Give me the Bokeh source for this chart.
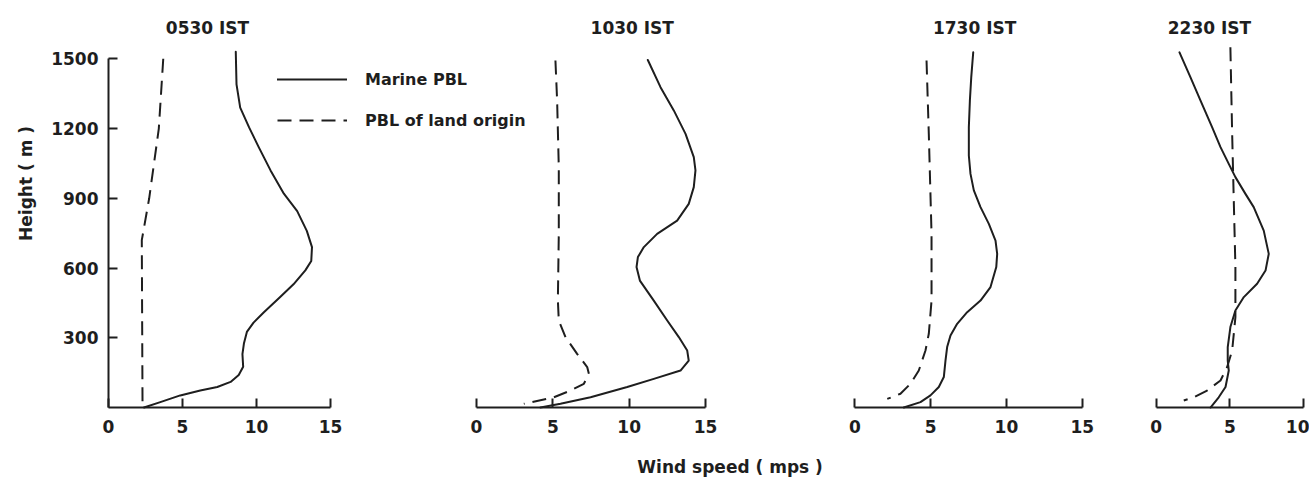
import math
from bokeh.plotting import figure
from bokeh.models import Range1d, LinearAxis, FixedTicker, Legend, LegendItem
from bokeh.core.properties import value
from bokeh.embed import file_html
from bokeh.resources import INLINE

# ---------------- data ----------------
times = ["0530 IST", "1030 IST", "1730 IST", "2230 IST"]
series_names = ["Marine PBL", "PBL of land origin"]
y_ticks = [300, 600, 900, 1200, 1500]
x_ticks_15 = [0, 5, 10, 15]
x_ticks_10 = [0, 5, 10]

# 0530 IST
marine_0530_h = [1530, 1390, 1290, 1205, 1120, 1020, 920, 845, 760, 690, 630, 590, 530, 475,
                 410, 365, 325, 275, 230, 175, 140, 110, 88, 73, 52, 23, 0]
marine_0530_s = [8.6, 8.65, 8.9, 9.5, 10.15, 10.95, 11.85, 12.75, 13.4, 13.75, 13.7, 13.3, 12.5, 11.6,
                 10.5, 9.8, 9.35, 9.15, 9.05, 9.1, 8.8, 8.25, 7.35, 6.2, 4.85, 3.5, 2.4]
land_0530_h = [1500, 1200, 900, 720, 0]
land_0530_s = [3.7, 3.4, 2.75, 2.25, 2.3]

# 1030 IST
marine_1030_h = [1495, 1378, 1278, 1177, 1077, 1020, 948, 876, 804, 747, 690, 647, 604, 546,
                 460, 374, 303, 245, 202, 159, 123, 88, 44, 16, 0]
marine_1030_s = [11.22, 12.05, 12.92, 13.69, 14.23, 14.34, 14.23, 13.9, 13.14, 11.83, 10.96, 10.57, 10.48, 10.7,
                 11.61, 12.49, 13.25, 13.8, 13.9, 13.36, 11.61, 9.87, 7.47, 5.5, 4.19]
land_1030_h = [1493, 1321, 1034, 747, 460, 374, 303, 231, 174, 145, 102, 73, 44, 16]
land_1030_s = [5.17, 5.28, 5.39, 5.39, 5.33, 5.39, 5.83, 6.59, 7.25, 7.36, 7.03, 6.16, 5.06, 3.1]

# 1730 IST
marine_1730_h = [1528, 1421, 1321, 1206, 1084, 1005, 934, 862, 790, 718, 661, 604, 518, 460,
                 410, 360, 310, 260, 202, 131, 88, 52, 23, 0]
marine_1730_s = [7.81, 7.68, 7.59, 7.52, 7.52, 7.63, 7.85, 8.29, 8.84, 9.28, 9.39, 9.33, 8.95, 8.29,
                 7.41, 6.75, 6.31, 6.09, 5.98, 5.87, 5.54, 4.99, 4.33, 3.23]
land_1730_h = [1493, 1177, 747, 460, 317, 245, 159, 102, 59, 37]
land_1730_s = [4.73, 4.88, 5.06, 5.06, 4.88, 4.66, 4.22, 3.67, 3.01, 2.14]

# 2230 IST
marine_2230_h = [1528, 1421, 1321, 1206, 1120, 1048, 991, 919, 862, 761, 661, 589, 532, 475,
                 417, 346, 260, 202, 159, 88, 44, 0]
marine_2230_s = [1.58, 2.32, 3.0, 3.79, 4.36, 4.92, 5.37, 6.05, 6.61, 7.29, 7.63, 7.41, 6.84, 5.94,
                 5.37, 5.03, 4.85, 4.85, 4.92, 4.7, 4.24, 3.68]
land_2230_h = [1550, 1177, 890, 604, 389, 245, 174, 116, 73, 44, 30]
land_2230_s = [5.03, 5.15, 5.26, 5.37, 5.37, 5.15, 4.81, 4.36, 3.45, 2.55, 1.87]

# ---------------- figure ----------------
INK = "#1e1e1e"
FONT = "DejaVu Sans"

p = figure(width=1309, height=483, output_backend="svg", toolbar_location=None,
           x_range=Range1d(-7.297, 81.15), y_range=Range1d(-326.9, 1750.8),
           x_axis_location=None, y_axis_location=None,
           min_border=0, min_border_left=0, min_border_right=0,
           min_border_top=0, min_border_bottom=0)
p.extra_x_ranges = {
    "p2": Range1d(-31.17, 54.55),
    "p3": Range1d(-56.35, 29.99),
    "p4": Range1d(-78.3, 10.39),
}
p.outline_line_color = None
p.xgrid.visible = False
p.ygrid.visible = False
p.background_fill_color = "white"
p.border_fill_color = "white"


def style_axis(ax):
    ax.axis_line_color = INK
    ax.axis_line_width = 2
    ax.major_tick_line_color = INK
    ax.major_tick_line_width = 2
    ax.major_tick_in = 9
    ax.major_tick_out = 0
    ax.minor_tick_in = 0
    ax.minor_tick_out = 0
    ax.major_label_text_font = FONT
    ax.major_label_text_font_style = "bold"
    ax.major_label_text_font_size = "17px"
    ax.major_label_text_color = INK


# y axis (only on the first panel)
yax = LinearAxis(fixed_location=0, bounds=(0, 1500), ticker=FixedTicker(ticks=y_ticks))
style_axis(yax)
yax.major_label_standoff = 10
p.add_layout(yax, "left")

# x axes, one per panel
panel_ranges = ["default", "p2", "p3", "p4"]
panel_ticks = [x_ticks_15, x_ticks_15, x_ticks_15, x_ticks_10]
for rn, tk in zip(panel_ranges, panel_ticks):
    ax = LinearAxis(x_range_name=rn, fixed_location=0, bounds=(tk[0], tk[-1]),
                    ticker=FixedTicker(ticks=tk))
    style_axis(ax)
    ax.major_label_standoff = 12
    p.add_layout(ax, "below")

# profiles
marine = [(marine_0530_s, marine_0530_h), (marine_1030_s, marine_1030_h),
          (marine_1730_s, marine_1730_h), (marine_2230_s, marine_2230_h)]
land = [(land_0530_s, land_0530_h), (land_1030_s, land_1030_h),
        (land_1730_s, land_1730_h), (land_2230_s, land_2230_h)]

solid_r, dash_r = [], []
for rn, (ms, mh), (ls, lh) in zip(panel_ranges, marine, land):
    solid_r.append(p.line(x=ms, y=mh, x_range_name=rn, line_color=INK, line_width=2,
                          line_join="round", line_cap="round"))
    dash_r.append(p.line(x=ls, y=lh, x_range_name=rn, line_color=INK, line_width=2,
                         line_dash="14 8", line_join="round"))

# panel titles
title_x = [6.69, 10.2, 7.9, 3.61]
for rn, tx, t in zip(panel_ranges, title_x, times):
    p.text(x=[tx], y=[1634], text=[t], x_range_name=rn,
           text_font=value(FONT), text_font_style="bold", text_font_size="17px",
           text_color=INK, text_align="center", text_baseline="middle")

# axis titles
p.text(x=[42.0], y=[-258], text=["Wind speed ( mps )"],
       text_font=value(FONT), text_font_style="bold", text_font_size="17px",
       text_color=INK, text_align="center", text_baseline="middle")
p.text(x=[-5.6], y=[964], text=["Height ( m )"], angle=math.pi / 2,
       text_font=value(FONT), text_font_style="bold", text_font_size="17px",
       text_color=INK, text_align="center", text_baseline="middle")

# legend
legend = Legend(items=[LegendItem(label=series_names[0], renderers=[solid_r[0]]),
                       LegendItem(label=series_names[1], renderers=[dash_r[0]])],
                location=(277, 483 - 130))
legend.glyph_width = 70
legend.glyph_height = 20
legend.label_height = 20
legend.label_standoff = 18
legend.spacing = 21
legend.padding = 0
legend.margin = 0
legend.border_line_color = None
legend.background_fill_alpha = 0
legend.label_text_font = FONT
legend.label_text_font_style = "bold"
legend.label_text_font_size = "16px"
legend.label_text_color = INK
p.add_layout(legend)

open("out.html", "w").write(file_html(p, INLINE))
